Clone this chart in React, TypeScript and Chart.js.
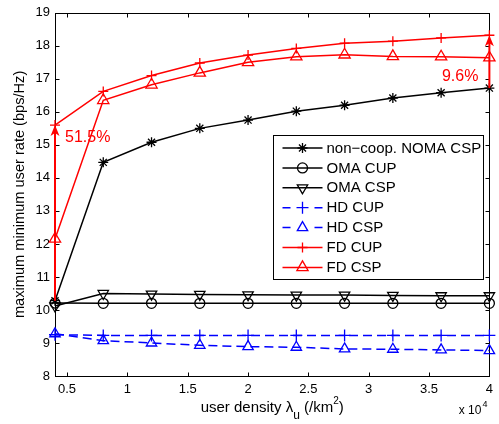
import React, { useEffect, useRef } from 'react';
import { Chart, registerables } from 'chart.js';
import { drawPoint } from 'chart.js/helpers';

Chart.register(...registerables);

// ---------------- data ----------------
const xValues = [0.4, 0.8, 1.2, 1.6, 2.0, 2.4, 2.8, 3.2, 3.6, 4.0];
const xTickValues = [0.5, 1, 1.5, 2, 2.5, 3, 3.5, 4];
const yTickValues = [8, 9, 10, 11, 12, 13, 14, 15, 16, 17, 18, 19];

const seriesLabels = [
  'non\u2212coop. NOMA CSP',
  'OMA CUP',
  'OMA CSP',
  'HD CUP',
  'HD CSP',
  'FD CUP',
  'FD CSP',
];
const nomaCsp = [10.28, 14.47, 15.08, 15.5, 15.75, 16.02, 16.2, 16.42, 16.58, 16.72];
const omaCup = [10.21, 10.2, 10.2, 10.2, 10.2, 10.2, 10.2, 10.2, 10.2, 10.2];
const omaCsp = [10.12, 10.5, 10.48, 10.47, 10.46, 10.45, 10.45, 10.44, 10.43, 10.43];
const hdCup = [9.25, 9.23, 9.23, 9.23, 9.23, 9.23, 9.23, 9.23, 9.23, 9.23];
const hdCsp = [9.28, 9.07, 9.0, 8.93, 8.89, 8.87, 8.82, 8.81, 8.79, 8.77];
const fdCup = [15.6, 16.62, 17.1, 17.48, 17.72, 17.92, 18.08, 18.14, 18.24, 18.32];
const fdCsp = [12.15, 16.35, 16.82, 17.18, 17.5, 17.67, 17.73, 17.68, 17.67, 17.64];
const seriesValues = [nomaCsp, omaCup, omaCsp, hdCup, hdCsp, fdCup, fdCsp];

const gainLabels = ['51.5%', '9.6%'];
const yTitle = 'maximum minimum user rate (bps/Hz)';

// ---------------- styles ----------------
const FONT = '"Liberation Sans", Arial, Helvetica, sans-serif';
const RED = '#ff0000';
const BLUE = '#0000ff';
const BLACK = '#000000';

const seriesStyles = [
  { color: BLACK, pointStyle: 'star', radius: 5, rotation: 0, dash: [] as number[] },
  { color: BLACK, pointStyle: 'circle', radius: 5, rotation: 0, dash: [] as number[] },
  { color: BLACK, pointStyle: 'triangle', radius: 6, rotation: 180, dash: [] as number[] },
  { color: BLUE, pointStyle: 'cross', radius: 6, rotation: 0, dash: [9, 5] },
  { color: BLUE, pointStyle: 'triangle', radius: 6, rotation: 0, dash: [9, 5] },
  { color: RED, pointStyle: 'cross', radius: 5, rotation: 0, dash: [] as number[] },
  { color: RED, pointStyle: 'triangle', radius: 6.5, rotation: 0, dash: [] as number[] },
];

const overlayPlugin = {
  id: 'overlay',
  beforeDatasetsDraw(chart: any) {
    const { ctx, chartArea: ca, scales } = chart;
    const xs = scales.x;
    const ys = scales.y;
    ctx.save();
    ctx.strokeStyle = BLACK;
    ctx.lineWidth = 1;
    ctx.setLineDash([]);
    const L = Math.round(ca.left) + 0.5;
    const R = Math.round(ca.right) + 0.5;
    const T = Math.round(ca.top) + 0.5;
    const B = Math.round(ca.bottom) + 0.5;
    ctx.strokeRect(L, T, R - L, B - T);
    const tl = 4;
    ctx.beginPath();
    xTickValues.forEach((v) => {
      const px = Math.round(xs.getPixelForValue(v)) + 0.5;
      ctx.moveTo(px, B);
      ctx.lineTo(px, B - tl);
      ctx.moveTo(px, T);
      ctx.lineTo(px, T + tl);
    });
    yTickValues.forEach((v) => {
      const py = Math.round(ys.getPixelForValue(v)) + 0.5;
      ctx.moveTo(L, py);
      ctx.lineTo(L + tl, py);
      ctx.moveTo(R, py);
      ctx.lineTo(R - tl, py);
    });
    ctx.stroke();
    ctx.restore();
  },
  afterDatasetsDraw(chart: any) {
    const { ctx, chartArea: ca, scales } = chart;
    const xs = scales.x;
    const ys = scales.y;
    ctx.save();

    // gain arrows
    const arrow = (xv: number, y0: number, y1: number) => {
      const px = xs.getPixelForValue(xv);
      const p0 = ys.getPixelForValue(y0);
      const p1 = ys.getPixelForValue(y1);
      ctx.strokeStyle = RED;
      ctx.fillStyle = RED;
      ctx.lineWidth = 2;
      ctx.setLineDash([]);
      ctx.beginPath();
      ctx.moveTo(px, p0);
      ctx.lineTo(px, p1 + 6);
      ctx.stroke();
      ctx.beginPath();
      ctx.moveTo(px, p1);
      ctx.lineTo(px - 4.5, p1 + 11);
      ctx.lineTo(px, p1 + 8);
      ctx.lineTo(px + 4.5, p1 + 11);
      ctx.closePath();
      ctx.fill();
    };
    arrow(xValues[0], nomaCsp[0], fdCup[0]);
    arrow(xValues[xValues.length - 1], nomaCsp[nomaCsp.length - 1], fdCup[fdCup.length - 1]);

    ctx.font = `16px ${FONT}`;
    ctx.fillStyle = RED;
    ctx.textBaseline = 'middle';
    ctx.textAlign = 'left';
    ctx.fillText(gainLabels[0], xs.getPixelForValue(xValues[0]) + 10, ys.getPixelForValue(15.22));
    ctx.textAlign = 'right';
    ctx.fillText(gainLabels[1], xs.getPixelForValue(xValues[xValues.length - 1]) - 11, ys.getPixelForValue(17.08));

    // legend
    const lw = 210;
    const lh = 144;
    const lx = Math.round(ca.right - 216) + 0.5;
    const ly = Math.round(ca.top + 122) + 0.5;
    ctx.fillStyle = '#ffffff';
    ctx.fillRect(lx, ly, lw, lh);
    ctx.strokeStyle = BLACK;
    ctx.lineWidth = 1;
    ctx.setLineDash([]);
    ctx.strokeRect(lx, ly, lw, lh);
    seriesLabels.forEach((label, i) => {
      const st = seriesStyles[i];
      const cy = ly + 12.5 + i * 19.9;
      ctx.strokeStyle = st.color;
      ctx.lineWidth = 1.5;
      ctx.beginPath();
      if (st.dash.length) {
        ctx.moveTo(lx + 9, cy);
        ctx.lineTo(lx + 17, cy);
        ctx.moveTo(lx + 41, cy);
        ctx.lineTo(lx + 49, cy);
      } else {
        ctx.moveTo(lx + 9, cy);
        ctx.lineTo(lx + 49, cy);
      }
      ctx.stroke();
      ctx.fillStyle = 'rgba(0,0,0,0)';
      ctx.lineWidth = 1.3;
      drawPoint(
        ctx,
        { pointStyle: st.pointStyle, radius: st.radius, rotation: st.rotation, borderWidth: 1.3 },
        lx + 29,
        cy,
      );
      ctx.fillStyle = BLACK;
      ctx.font = `15px ${FONT}`;
      ctx.textAlign = 'left';
      ctx.textBaseline = 'middle';
      ctx.fillText(label, lx + 53, cy + 0.5);
    });

    // x axis title with sub/superscript
    const segs = [
      { t: 'user density \u03bb', s: 15, dy: 0 },
      { t: 'u', s: 12, dy: 7 },
      { t: ' (/km', s: 15, dy: 0 },
      { t: '2', s: 10, dy: -8 },
      { t: ')', s: 15, dy: 0 },
    ];
    ctx.fillStyle = BLACK;
    ctx.textBaseline = 'alphabetic';
    ctx.textAlign = 'left';
    let total = 0;
    segs.forEach((sg) => {
      ctx.font = `${sg.s}px ${FONT}`;
      total += ctx.measureText(sg.t).width;
    });
    let cx = (ca.left + ca.right) / 2 - total / 2;
    const base = 412;
    segs.forEach((sg) => {
      ctx.font = `${sg.s}px ${FONT}`;
      ctx.fillText(sg.t, cx, base + sg.dy);
      cx += ctx.measureText(sg.t).width;
    });

    // exponent label
    ctx.font = `9px ${FONT}`;
    const expW = ctx.measureText('4').width;
    ctx.textAlign = 'right';
    ctx.fillText('4', ca.right - 2, 407);
    ctx.font = `12px ${FONT}`;
    ctx.fillText('x 10', ca.right - 2 - expW - 1, 414);

    ctx.restore();
  },
};

export default function App() {
  const canvasRef = useRef<HTMLCanvasElement | null>(null);

  useEffect(() => {
    const canvas = canvasRef.current;
    if (!canvas) return;
    const datasets = seriesValues.map((vals, i) => {
      const st = seriesStyles[i];
      return {
        label: seriesLabels[i],
        data: xValues.map((x, j) => ({ x, y: vals[j] })),
        borderColor: st.color,
        backgroundColor: 'rgba(0,0,0,0)',
        borderWidth: 1.5,
        borderDash: st.dash,
        pointStyle: st.pointStyle,
        pointRadius: st.radius,
        pointRotation: st.rotation,
        pointBorderColor: st.color,
        pointBackgroundColor: 'rgba(0,0,0,0)',
        pointBorderWidth: 1.3,
        tension: 0,
        fill: false,
        clip: false,
      };
    });

    const chart = new Chart(canvas, {
      type: 'line',
      data: { datasets: datasets as any },
      options: {
        animation: false,
        responsive: false,
        devicePixelRatio: 1,
        events: [],
        layout: { padding: { top: 10, right: 7, bottom: 0, left: 0 } },
        plugins: {
          legend: { display: false },
          tooltip: { enabled: false },
          title: { display: false },
        },
        scales: {
          x: {
            type: 'linear',
            min: 0.4,
            max: 4,
            afterBuildTicks: (axis: any) => {
              axis.ticks = xTickValues.map((v) => ({ value: v }));
            },
            afterFit: (scale: any) => {
              scale.height = 48;
            },
            grid: { display: false, drawTicks: false },
            border: { display: false },
            ticks: {
              autoSkip: false,
              maxRotation: 0,
              minRotation: 0,
              padding: 6,
              color: BLACK,
              font: { family: FONT, size: 13 },
              callback: (v: any) => String(v),
            },
          },
          y: {
            type: 'linear',
            min: 8,
            max: 19,
            afterBuildTicks: (axis: any) => {
              axis.ticks = yTickValues.map((v) => ({ value: v }));
            },
            afterFit: (scale: any) => {
              scale.width = 55;
            },
            grid: { display: false, drawTicks: false },
            border: { display: false },
            title: {
              display: true,
              text: yTitle,
              color: BLACK,
              font: { family: FONT, size: 14.6 },
              padding: { top: 11, bottom: 0 },
            },
            ticks: {
              autoSkip: false,
              padding: 5,
              color: BLACK,
              font: { family: FONT, size: 13 },
              callback: (v: any) => String(v),
            },
          },
        },
      },
      plugins: [overlayPlugin],
    });
    return () => chart.destroy();
  }, []);

  return (
    <div style={{ position: 'fixed', left: 0, top: 0, width: 499, height: 424, background: '#ffffff' }}>
      <canvas ref={canvasRef} width={499} height={424} style={{ display: 'block', width: 499, height: 424 }} />
    </div>
  );
}
